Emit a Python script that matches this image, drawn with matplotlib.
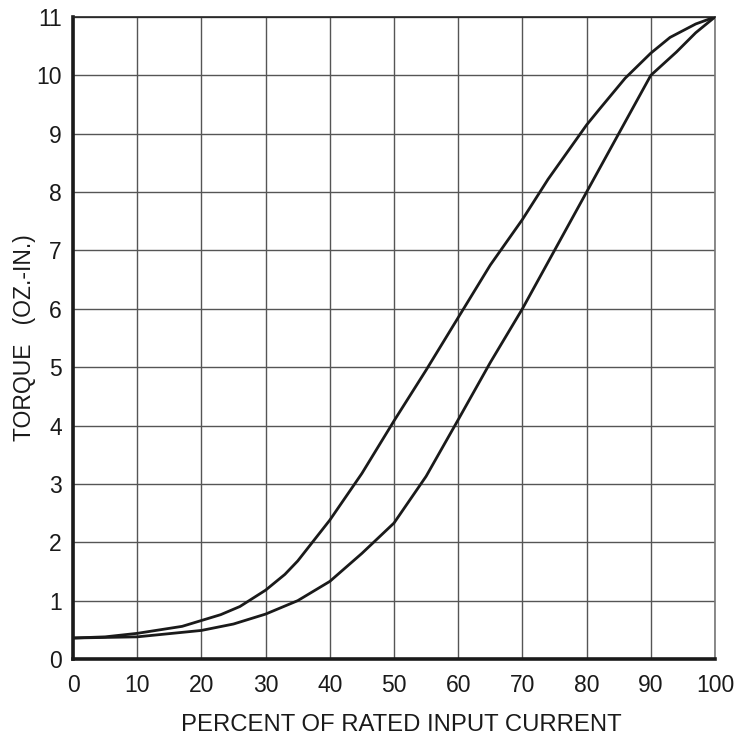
#!/usr/bin/env python3
# Torque vs percent of rated input current (hysteresis loop, two branches).

import matplotlib
matplotlib.use("Agg")
import matplotlib.pyplot as plt

# upper branch (rising torque curve)
upper_pct = [0, 5, 10, 17, 20, 23, 26, 30, 33, 35, 40, 45, 50, 55, 60, 65,
             70, 74, 80, 82, 86, 90, 93, 97, 100]
upper_torque = [0.36, 0.38, 0.44, 0.56, 0.66, 0.76, 0.9, 1.18, 1.45, 1.68,
                2.38, 3.18, 4.08, 4.95, 5.85, 6.75, 7.53, 8.22, 9.15, 9.42,
                9.95, 10.38, 10.65, 10.88, 11.0]

# lower branch
lower_pct = [0, 10, 20, 25, 30, 35, 40, 45, 50, 55, 60, 65, 70, 75, 80,
             85, 90, 94, 97, 100]
lower_torque = [0.36, 0.38, 0.49, 0.6, 0.77, 1.0, 1.33, 1.81, 2.33, 3.13,
                4.1, 5.08, 6.0, 7.0, 8.0, 9.0, 10.0, 10.4, 10.73, 11.0]

x_ticks = list(range(0, 101, 10))
y_ticks = list(range(0, 12))

plt.rcParams["font.family"] = ["Liberation Sans", "DejaVu Sans"]

fig = plt.figure(figsize=(7.39, 7.38), dpi=100)
ax = fig.add_axes([0.0988, 0.107, 0.8687, 0.870])

ax.plot(upper_pct, upper_torque, color="#1a1a1a", linewidth=2.0,
        solid_joinstyle="round", zorder=3)
ax.plot(lower_pct, lower_torque, color="#1a1a1a", linewidth=2.0,
        solid_joinstyle="round", zorder=3)

ax.set_xlim(0, 100)
ax.set_ylim(0, 11)
ax.set_xticks(x_ticks)
ax.set_yticks(y_ticks)
ax.tick_params(length=0, labelsize=16.5, colors="#1a1a1a")
ax.tick_params(axis="x", pad=11)
ax.tick_params(axis="y", pad=8)

ax.grid(True, color="#555555", linewidth=1.0)
ax.set_axisbelow(True)

ax.spines["left"].set_linewidth(2.6)
ax.spines["bottom"].set_linewidth(2.6)
ax.spines["left"].set_color("#1a1a1a")
ax.spines["bottom"].set_color("#1a1a1a")
ax.spines["top"].set_linewidth(1.2)
ax.spines["top"].set_color("#222222")
ax.spines["right"].set_linewidth(1.2)
ax.spines["right"].set_color("#777777")

ax.set_xlabel("PERCENT OF RATED INPUT CURRENT", fontsize=17.2,
              color="#1a1a1a", va="center")
ax.set_ylabel("TORQUE   (OZ.-IN.)", fontsize=16.5, color="#1a1a1a",
              va="center")
ax.xaxis.set_label_coords(0.512, -0.103)
ax.yaxis.set_label_coords(-0.075, 0.5)

fig.savefig("out.png", dpi=100)
